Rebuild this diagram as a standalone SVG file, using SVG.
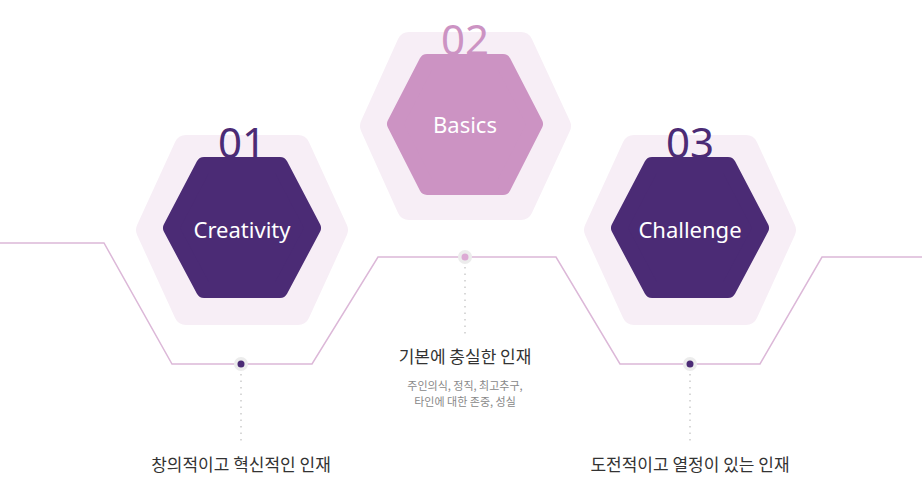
<svg xmlns="http://www.w3.org/2000/svg" width="922" height="490" viewBox="0 0 922 490">
<style>
.outer{fill:#f7eef6;stroke:#f7eef6;stroke-width:24;stroke-linejoin:round}
.dark{fill:#4b2b75;stroke:#4b2b75;stroke-width:16;stroke-linejoin:round}
.pink{fill:#cc93c3;stroke:#cc93c3;stroke-width:16;stroke-linejoin:round}
.num{font-family:"Noto Sans","Liberation Sans",sans-serif;font-size:42px;text-anchor:middle}
.hl{font-family:"Noto Sans","Liberation Sans",sans-serif;font-size:22px;fill:#fff;text-anchor:middle}
.kt{font-family:"Noto Sans CJK KR",sans-serif;font-size:17px;fill:#333;text-anchor:middle}
.ks{font-family:"Noto Sans CJK KR",sans-serif;font-size:11px;fill:#888;text-anchor:middle}
.dot{stroke:#ccc;stroke-width:1.5;stroke-dasharray:1.5 5}
</style>
<g id="connectors">
<polyline points="0,243 104,243 172,364 312,364 378,257 556,257 620,364 760,364 822,257 922,257" fill="none" stroke="#dcb8d8" stroke-width="1.5"/>
<line class="dot" x1="241" y1="374" x2="241" y2="442"/>
<line class="dot" x1="465" y1="267" x2="465" y2="335"/>
<line class="dot" x1="690" y1="374" x2="690" y2="442"/>
<circle cx="241" cy="364" r="7" fill="#ececec"/><circle cx="241" cy="364" r="3.5" fill="#4b2b75"/>
<circle cx="465" cy="257" r="7" fill="#ececec"/><circle cx="465" cy="257" r="3.5" fill="#dcaad4"/>
<circle cx="690" cy="364" r="7" fill="#ececec"/><circle cx="690" cy="364" r="3.5" fill="#4b2b75"/>
</g>
<g id="node1">
<polygon class="outer" points="186,147 298,147 336,230 298,313 186,313 148,230"/>
<text class="num" x="242" y="158" fill="#4b2b75">01</text>
<polygon class="dark" points="204,165 280,165 313,228 280,290 204,290 171,228"/>
<text class="hl" x="242" y="238">Creativity</text>
<text class="kt" x="241" y="471">창의적이고 혁신적인 인재</text>
</g>
<g id="node2">
<polygon class="outer" points="409,44 521,44 559,126 521,208 409,208 372,126"/>
<text class="num" x="465" y="55" fill="#cc93c3">02</text>
<polygon class="pink" points="427,62 503,62 535,124 503,187 427,187 395,124"/>
<text class="hl" x="465" y="133">Basics</text>
<text class="kt" x="465" y="363">기본에 충실한 인재</text>
<text class="ks" x="465" y="390">주인의식, 정직, 최고추구,</text>
<text class="ks" x="465" y="406">타인에 대한 존중, 성실</text>
</g>
<g id="node3">
<polygon class="outer" points="634,147 746,147 784,230 746,313 634,313 596,230"/>
<text class="num" x="690" y="158" fill="#4b2b75">03</text>
<polygon class="dark" points="652,165 728,165 761,228 728,290 652,290 619,228"/>
<text class="hl" x="690" y="238">Challenge</text>
<text class="kt" x="690" y="471">도전적이고 열정이 있는 인재</text>
</g>
</svg>
